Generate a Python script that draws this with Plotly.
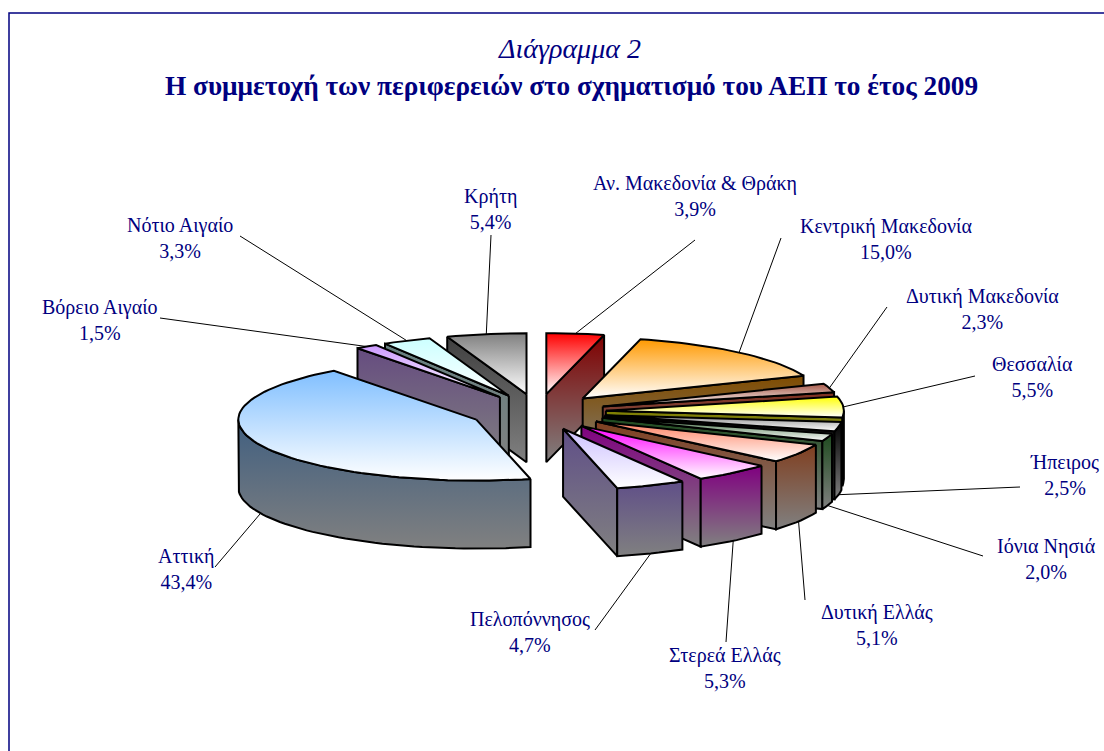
import math
import plotly.graph_objects as go

regions = ["Αν. Μακεδονία & Θράκη", "Κεντρική Μακεδονία", "Δυτική Μακεδονία", "Θεσσαλία", "Ήπειρος",
           "Ιόνια Νησιά", "Δυτική Ελλάς", "Στερεά Ελλάς", "Πελοπόννησος", "Αττική",
           "Βόρειο Αιγαίο", "Νότιο Αιγαίο", "Κρήτη"]
shares = [3.9, 15.0, 2.3, 5.5, 2.5, 2.0, 5.1, 5.3, 4.7, 43.4, 1.5, 3.3, 5.4]
top_colours = ["#ff0000", "#ff9900", "#a85a4a", "#ffff00", "#909090", "#3c6c3c", "#ff8060",
               "#ff00ff", "#ccc0ff", "#80bfff", "#cc99ff", "#ccffff", "#808080"]
side_colours = ["#800000", "#804c00", "#803020", "#808000", "#000000", "#1e4a1e", "#803f20",
                "#800080", "#604f88", "#405f80", "#664c80", "#668080", "#404040"]

# pie projection, in axis units (the axes span the page's pixels)
CX, CY, RX, RY, DEPTH = 538, 412, 238, 61, 68
EX, EY = 68, 18
GREY = "#808080"
NAVY = "#000080"
FONT = "Liberation Serif"

# label centre x, first line y, leader end
label_pos = [(695, 182, 695, 240), (886, 225, 781, 238), (982, 295, 887, 307), (1032, 363, 975, 376),
             (1064, 461, 1020, 487), (1046, 545, 983, 556), (877, 611, 805, 600), (725, 654, 726, 642),
             (530, 618, 595, 630), (186, 555, 215, 567), (100, 306, 160, 318), (180, 224, 240, 236),
             (490, 195, 491, 235)]
# whether each leader lands on the lower rim
leader_on_base = [False, False, False, False, True, True, True, True, True, True, False, False, False]

fig = go.Figure()


def poly(xs, ys, c_top, c_bot):
    y0, y1 = min(ys), max(ys)
    fig.add_trace(go.Scatter(
        x=list(xs) + [xs[0]], y=list(ys) + [ys[0]], mode="lines", fill="toself",
        line=dict(color="black", width=2), hoverinfo="skip", showlegend=False,
        fillgradient=dict(type="vertical", start=y0, stop=y1,
                          colorscale=[[0, c_top], [1, c_bot]]),
    ))


def rim(ax, ay, t):
    r = math.radians(t)
    return ax + RX * math.sin(r), ay - RY * math.cos(r)


wedges = []
acc = 0.0
total = sum(shares)
for i, s in enumerate(shares):
    t0 = acc / total * 360
    acc += s
    t1 = acc / total * 360
    wedges.append((i, t0, t1, (t0 + t1) / 2))

for i, t0, t1, tm in sorted(wedges, key=lambda w: -math.cos(math.radians(w[3]))):
    m = math.radians(tm)
    ax = CX + EX * math.sin(m)
    ay = CY - EY * math.cos(m)
    top, side = top_colours[i], side_colours[i]
    # flat cut faces that look towards the viewer
    if math.sin(math.radians(t0)) < 0:
        x, y = rim(ax, ay, t0)
        poly([ax, x, x, ax], [ay, y, y + DEPTH, ay + DEPTH], side, GREY)
    if math.sin(math.radians(t1)) > 0:
        x, y = rim(ax, ay, t1)
        poly([ax, x, x, ax], [ay, y, y + DEPTH, ay + DEPTH], side, GREY)
    # outer wall
    a, b = max(t0, 90), min(t1, 270)
    if b > a:
        n = max(2, int((b - a) / 2) + 1)
        ts = [a + (b - a) * k / (n - 1) for k in range(n)]
        pts = [rim(ax, ay, t) for t in ts]
        xs = [p[0] for p in pts]
        ys = [p[1] for p in pts]
        poly(xs + xs[::-1], ys + [v + DEPTH for v in ys[::-1]], side, GREY)
    # top face
    n = max(2, int((t1 - t0) / 2) + 1)
    pts = [rim(ax, ay, t0 + (t1 - t0) * k / (n - 1)) for k in range(n)]
    poly([ax] + [p[0] for p in pts], [ay] + [p[1] for p in pts], top, "#ffffff")

# leaders and labels
annotations = []
for i, t0, t1, tm in wedges:
    m = math.radians(tm)
    ax = CX + EX * math.sin(m)
    ay = CY - EY * math.cos(m)
    x, y = rim(ax, ay, tm)
    if leader_on_base[i]:
        y += DEPTH
    lx, fy, ex, ey = label_pos[i]
    fig.add_trace(go.Scatter(x=[ex, x], y=[ey, y], mode="lines", line=dict(color="black", width=1),
                             hoverinfo="skip", showlegend=False))
    value_text = f"{shares[i]:.1f}".replace(".", ",")
    annotations.append(dict(x=lx, y=fy + 13.5, xref="x", yref="y", showarrow=False,
                            text=f"{regions[i]}<br>{value_text}%",
                            align="center", font=dict(family=FONT, size=20, color=NAVY)))

annotations.append(dict(x=569, y=48, xref="x", yref="y", showarrow=False, text="<i>Διάγραμμα 2</i>",
                        font=dict(family=FONT, size=28, color=NAVY)))
annotations.append(dict(x=571, y=86, xref="x", yref="y", showarrow=False,
                        text="<b>Η συμμετοχή των περιφερειών στο σχηματισμό του ΑΕΠ το έτος 2009</b>",
                        font=dict(family=FONT, size=27.3, color=NAVY)))

fig.update_layout(
    width=1104, height=751, margin=dict(l=0, r=0, t=0, b=0), paper_bgcolor="white", plot_bgcolor="white",
    annotations=annotations,
    xaxis=dict(range=[0, 1104], visible=False, fixedrange=True),
    yaxis=dict(range=[751, 0], visible=False, fixedrange=True),
    shapes=[dict(type="rect", xref="x", yref="y", x0=9, y0=13, x1=1120, y1=770,
                 line=dict(color=NAVY, width=1.5))],
)
fig.write_html("out.html", config={"displayModeBar": False},
               post_script="document.body.style.margin='0';document.body.style.overflow='hidden';")
